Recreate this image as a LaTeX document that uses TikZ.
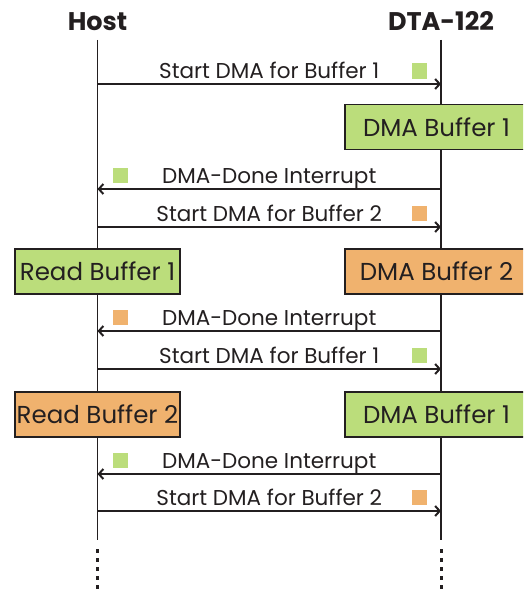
\documentclass[tikz,border=0pt]{standalone}
\usepackage{fontspec}
\setmainfont{Poppins}
\usetikzlibrary{arrows.meta}
\definecolor{bufgreen}{RGB}{187,221,123}
\definecolor{buforange}{RGB}{240,178,110}
\definecolor{ink}{RGB}{35,31,32}

\begin{document}
\begin{tikzpicture}[x=1pt, y=-1pt, text=ink,
	lifeline/.style={line width=1.5pt, draw=ink},
	msg/.style={->, >={Straight Barb[length=4.5pt, width=10pt, line width=2pt]}, line width=2.6pt, draw=ink},
	lbl/.style={midway, anchor=base, yshift=6pt, font=\fontsize{21.5}{24}\selectfont},
	buf/.style={draw=ink, line width=1.5pt, minimum height=45pt, inner sep=0pt, font=\fontsize{24.5}{29}\selectfont},
	tag/.style={minimum size=15pt, inner sep=0pt},
	head/.style={font=\fontsize{25.5}{30}\selectfont\bfseries, anchor=base}]
				\clip (0,0) rectangle (523,594);
				\node[head] (host)at(97.5, 31) {Host};
				\node[head] (dta)at(441, 31) {DTA-122};
				\coordinate (hostTop)at(97.5, 40);
				\coordinate (hostEnd)at(97.5, 540);
				\coordinate (dtaTop)at(441, 40);
				\coordinate (dtaEnd)at(441, 540);
				\draw[lifeline] (hostTop) -- (hostEnd);
				\draw[lifeline] (dtaTop) -- (dtaEnd);
				\coordinate (hostMore)at(97.5, 549);
				\coordinate (hostStop)at(97.5, 594);
				\coordinate (dtaMore)at(441, 549);
				\coordinate (dtaStop)at(441, 594);
				\draw[ink, line width=3pt, dash pattern=on 4pt off 5pt] (hostMore) -- (hostStop);
				\draw[ink, line width=3pt, dash pattern=on 4pt off 5pt] (dtaMore) -- (dtaStop);
				% start buffer 1
				\coordinate (sA)at(97.5, 84);  \coordinate (dA)at(441, 84);
				\draw[msg] (sA) -- (dA) node[lbl] {Start DMA for Buffer 1};
				\node[tag, fill=bufgreen] (tA)at(419.5, 71) {};
				\node[buf, fill=bufgreen, minimum width=183pt] (dmaA)at(436.5, 127) {DMA Buffer 1};
				% done 1, start buffer 2
				\coordinate (dB)at(441, 189);  \coordinate (sB)at(97.5, 189);
				\draw[msg] (dB) -- (sB) node[lbl] {DMA-Done Interrupt};
				\node[tag, fill=bufgreen] (tB)at(120.5, 175) {};
				\coordinate (sC)at(97.5, 227);  \coordinate (dC)at(441, 227);
				\draw[msg] (sC) -- (dC) node[lbl] {Start DMA for Buffer 2};
				\node[tag, fill=buforange] (tC)at(419.5, 213) {};
				\node[buf, fill=bufgreen, minimum width=165pt] (readA)at(97.5, 271.5) {Read Buffer 1};
				\node[buf, fill=buforange, minimum width=183pt] (dmaB)at(436.5, 271.5) {DMA Buffer 2};
				% done 2, start buffer 1
				\coordinate (dD)at(441, 331);  \coordinate (sD)at(97.5, 331);
				\draw[msg] (dD) -- (sD) node[lbl] {DMA-Done Interrupt};
				\node[tag, fill=buforange] (tD)at(120.5, 317) {};
				\coordinate (sE)at(97.5, 369);  \coordinate (dE)at(441, 369);
				\draw[msg] (sE) -- (dE) node[lbl] {Start DMA for Buffer 1};
				\node[tag, fill=bufgreen] (tE)at(419.5, 355) {};
				\node[buf, fill=buforange, minimum width=165pt] (readB)at(97.5, 414.5) {Read Buffer 2};
				\node[buf, fill=bufgreen, minimum width=183pt] (dmaC)at(436.5, 414.5) {DMA Buffer 1};
				% done 1, start buffer 2
				\coordinate (dF)at(441, 474);  \coordinate (sF)at(97.5, 474);
				\draw[msg] (dF) -- (sF) node[lbl] {DMA-Done Interrupt};
				\node[tag, fill=bufgreen] (tF)at(120.5, 460) {};
				\coordinate (sG)at(97.5, 511);  \coordinate (dG)at(441, 511);
				\draw[msg] (sG) -- (dG) node[lbl] {Start DMA for Buffer 2};
				\node[tag, fill=buforange] (tG)at(419.5, 497) {};
			\end{tikzpicture}
\end{document}
